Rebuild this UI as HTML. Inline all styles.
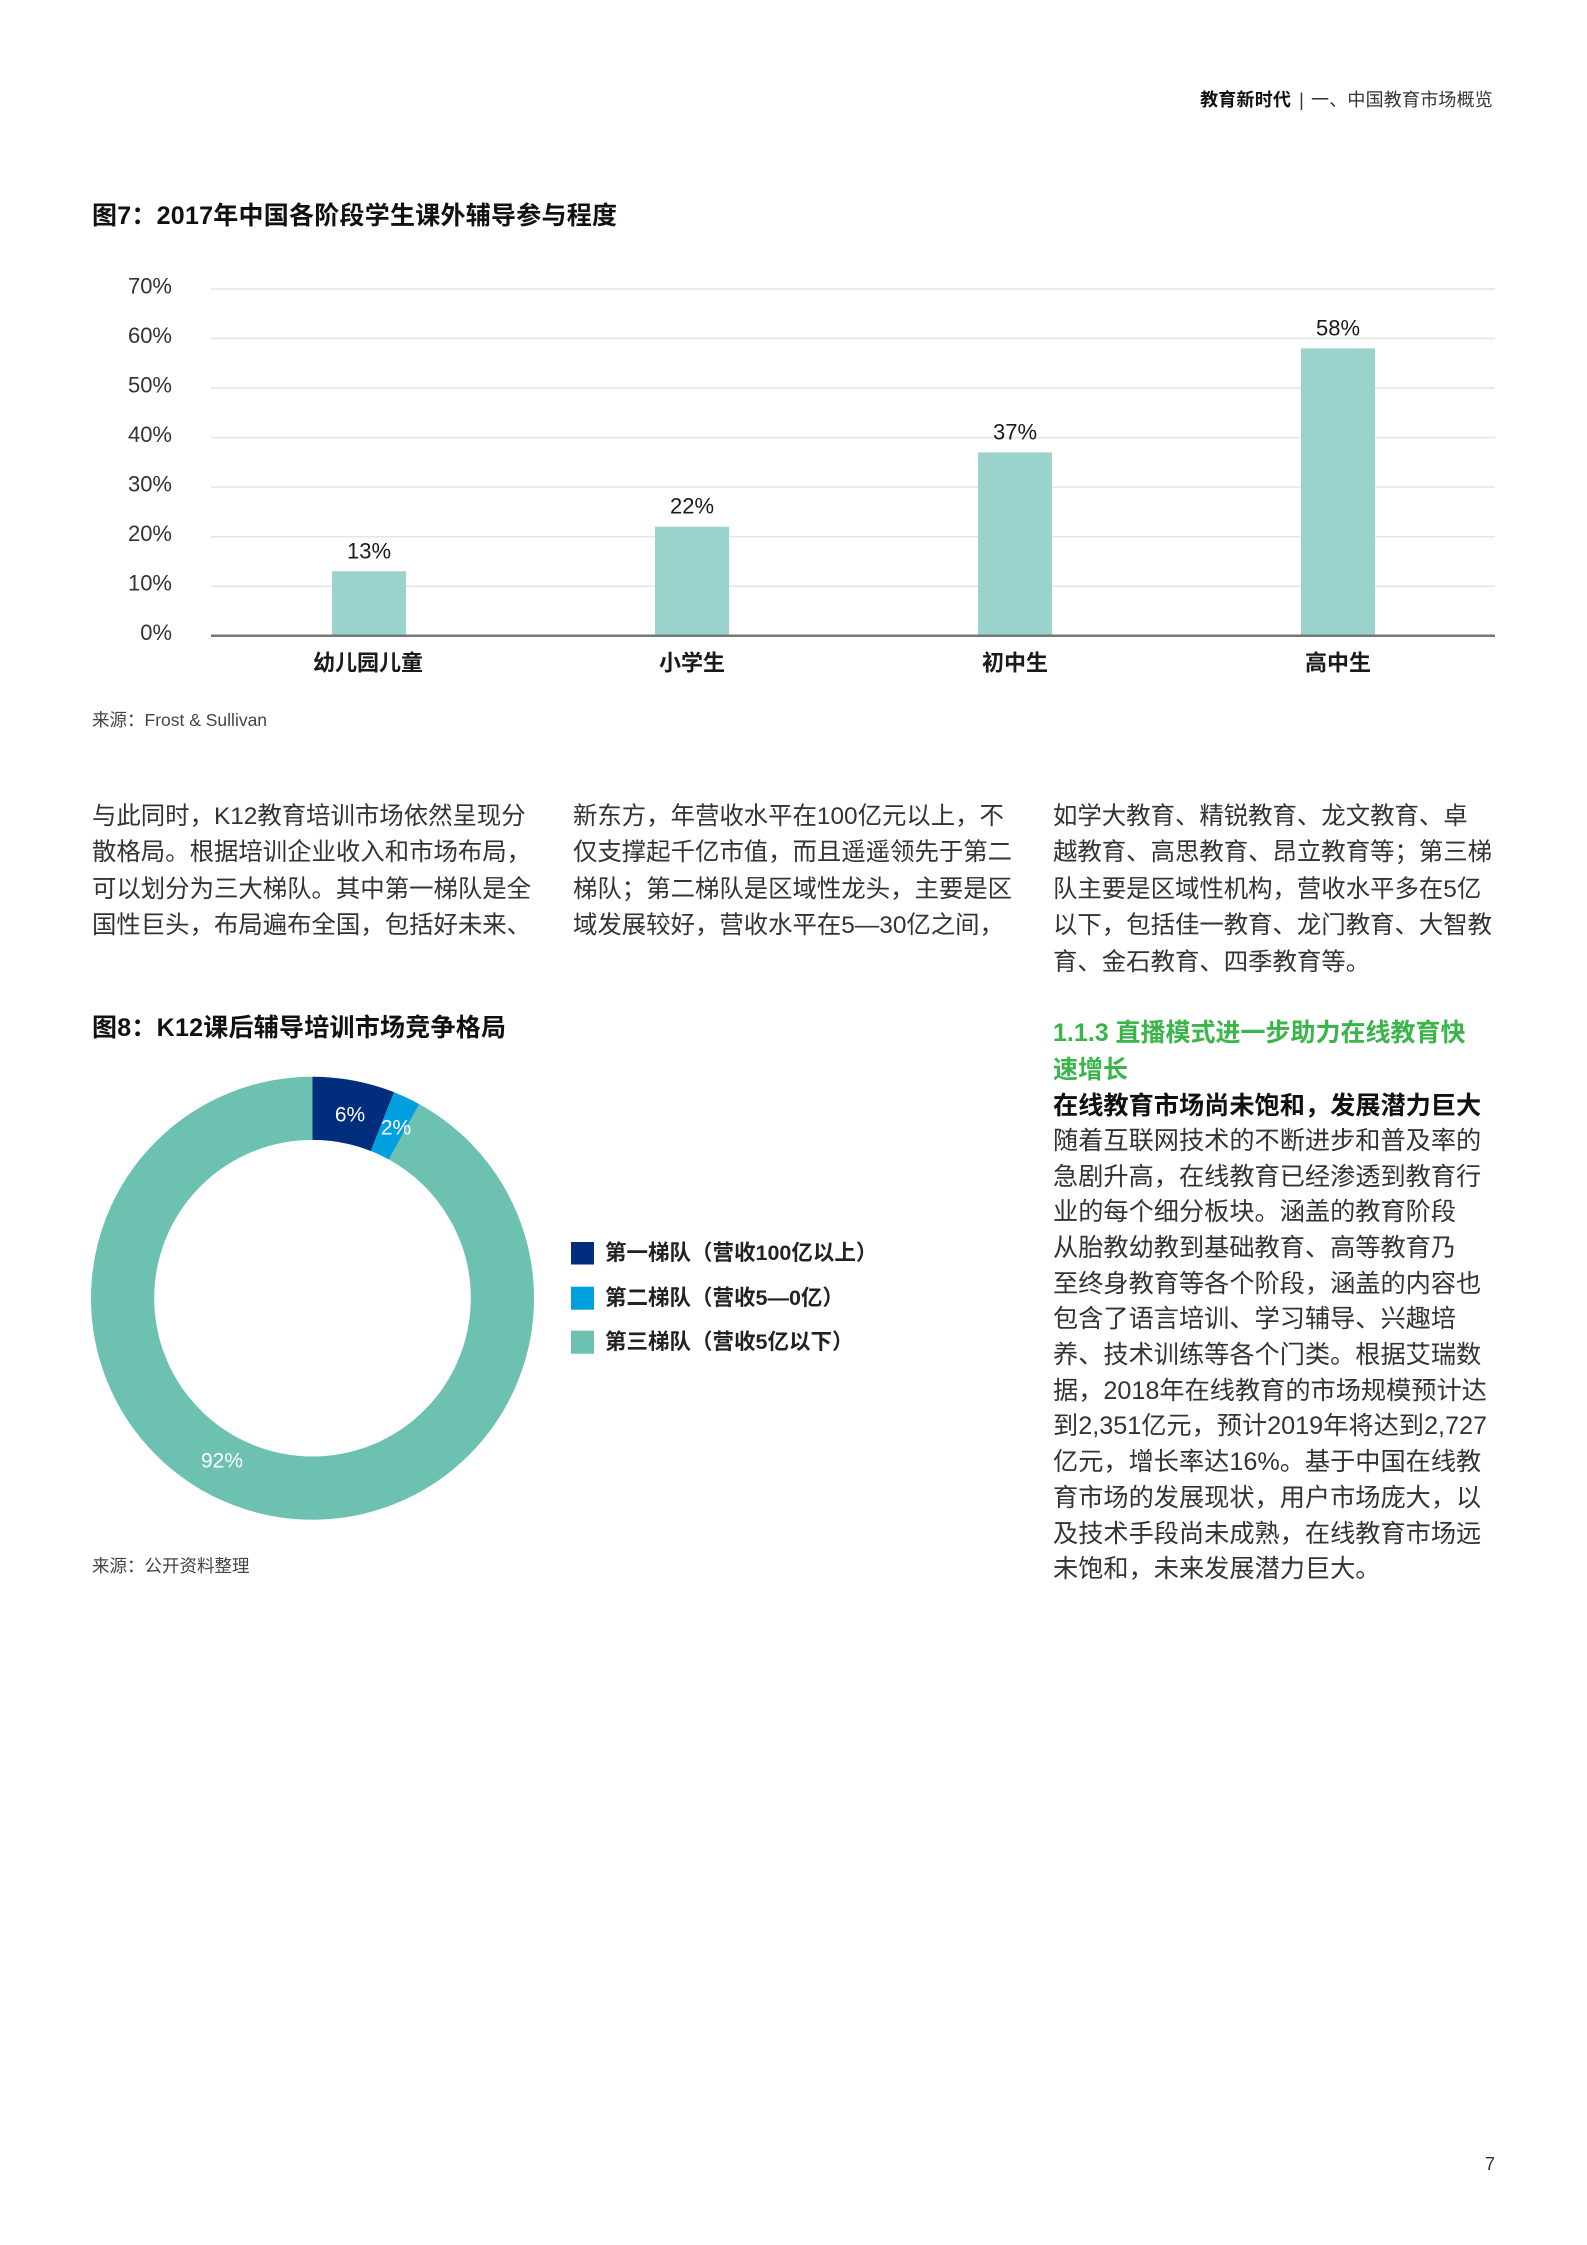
<!DOCTYPE html>
<html>
<head>
<meta charset="utf-8">
<style>
  html,body{margin:0;padding:0;background:#fff;}
  body{width:1587px;height:2245px;position:relative;overflow:hidden;
       font-family:"Liberation Sans","Noto Sans CJK SC",sans-serif;color:#333;}
  .a{position:absolute;white-space:nowrap;}
  .p{position:absolute;white-space:nowrap;font-size:24.4px;line-height:36.5px;height:36.5px;color:#333;}
  .r{position:absolute;white-space:nowrap;font-size:25.2px;line-height:35.7px;height:35.7px;color:#333;left:1053px;}
  svg text{font-family:"Liberation Sans","Noto Sans CJK SC",sans-serif;}
</style>
</head>
<body>

<!-- Header -->
<div class="a" style="right:94px;top:88px;font-size:18px;line-height:24px;letter-spacing:0.2px;">
  <span style="font-weight:bold;color:#111;">教育新时代</span><span style="color:#333;margin:0 7px 0 8px;">|</span><span style="color:#333;">一、中国教育市场概览</span>
</div>

<!-- Figure 7 title -->
<div class="a" style="left:92px;top:201px;font-size:25px;line-height:30px;font-weight:bold;color:#111;letter-spacing:0.25px;">图7：2017年中国各阶段学生课外辅导参与程度</div>

<!-- Bar chart -->
<svg class="a" style="left:0;top:0;" width="1587" height="760" viewBox="0 0 1587 760">
  <g stroke="#e4e4e4" stroke-width="1.5">
    <line x1="211" y1="289" x2="1495" y2="289"/>
    <line x1="211" y1="338.5" x2="1495" y2="338.5"/>
    <line x1="211" y1="388" x2="1495" y2="388"/>
    <line x1="211" y1="437.6" x2="1495" y2="437.6"/>
    <line x1="211" y1="487.1" x2="1495" y2="487.1"/>
    <line x1="211" y1="536.7" x2="1495" y2="536.7"/>
    <line x1="211" y1="586.2" x2="1495" y2="586.2"/>
  </g>
  <g fill="#9ad3cb">
    <rect x="332" y="571.3" width="74" height="64.4"/>
    <rect x="655" y="526.7" width="74" height="109"/>
    <rect x="978" y="452.4" width="74" height="183.3"/>
    <rect x="1301" y="348.4" width="74" height="287.3"/>
  </g>
  <line x1="211" y1="635.7" x2="1495" y2="635.7" stroke="#76777a" stroke-width="2.5"/>
  <g font-size="22" fill="#333" text-anchor="end" dominant-baseline="central">
    <text x="172" y="286">70%</text>
    <text x="172" y="335.5">60%</text>
    <text x="172" y="385">50%</text>
    <text x="172" y="434.6">40%</text>
    <text x="172" y="484.1">30%</text>
    <text x="172" y="533.7">20%</text>
    <text x="172" y="583.2">10%</text>
    <text x="172" y="632.7">0%</text>
  </g>
  <g font-size="22" fill="#1a1a1a" text-anchor="middle" dominant-baseline="central">
    <text x="369" y="551">13%</text>
    <text x="692" y="506">22%</text>
    <text x="1015" y="432">37%</text>
    <text x="1338" y="328">58%</text>
  </g>
  <g font-size="22" fill="#1a1a1a" font-weight="bold" text-anchor="middle" dominant-baseline="central">
    <text x="368" y="663">幼儿园儿童</text>
    <text x="692" y="663">小学生</text>
    <text x="1015" y="663">初中生</text>
    <text x="1338" y="663">高中生</text>
  </g>
</svg>

<!-- Source 1 -->
<div class="a" style="left:92px;top:709px;font-size:17.5px;line-height:22px;color:#444;">来源：Frost &amp; Sullivan</div>

<!-- Paragraph columns -->
<div class="p" style="left:92px;top:798.5px;">与此同时，K12教育培训市场依然呈现分</div>
<div class="p" style="left:92px;top:835px;">散格局。根据培训企业收入和市场布局，</div>
<div class="p" style="left:92px;top:871.5px;">可以划分为三大梯队。其中第一梯队是全</div>
<div class="p" style="left:92px;top:908px;">国性巨头，布局遍布全国，包括好未来、</div>

<div class="p" style="left:573px;top:798.5px;">新东方，年营收水平在100亿元以上，不</div>
<div class="p" style="left:573px;top:835px;">仅支撑起千亿市值，而且遥遥领先于第二</div>
<div class="p" style="left:573px;top:871.5px;">梯队；第二梯队是区域性龙头，主要是区</div>
<div class="p" style="left:573px;top:908px;">域发展较好，营收水平在5—30亿之间，</div>

<div class="p" style="left:1053px;top:798.5px;">如学大教育、精锐教育、龙文教育、卓</div>
<div class="p" style="left:1053px;top:835px;">越教育、高思教育、昂立教育等；第三梯</div>
<div class="p" style="left:1053px;top:871.5px;">队主要是区域性机构，营收水平多在5亿</div>
<div class="p" style="left:1053px;top:908px;">以下，包括佳一教育、龙门教育、大智教</div>
<div class="p" style="left:1053px;top:944.5px;">育、金石教育、四季教育等。</div>

<!-- Figure 8 title -->
<div class="a" style="left:92px;top:1012.7px;font-size:25px;line-height:30px;font-weight:bold;color:#111;letter-spacing:0.25px;">图8：K12课后辅导培训市场竞争格局</div>

<!-- Donut -->
<svg class="a" style="left:0;top:1000px;" width="1000" height="560" viewBox="0 1000 1000 560">
  <g transform="rotate(-90 312.5 1298.2)" fill="none" stroke-width="63.2">
    <circle cx="312.5" cy="1298.2" r="189.9" stroke="#6cc1b1" stroke-dasharray="1097.7 2000" stroke-dashoffset="-95.45"/>
    <circle cx="312.5" cy="1298.2" r="189.9" stroke="#002d7c" stroke-dasharray="71.59 2000" stroke-dashoffset="0"/>
    <circle cx="312.5" cy="1298.2" r="189.9" stroke="#00a0e0" stroke-dasharray="23.86 2000" stroke-dashoffset="-71.59"/>
  </g>
  <g font-size="21" fill="#fff" text-anchor="middle" dominant-baseline="central">
    <text x="350" y="1115">6%</text>
    <text x="396" y="1128">2%</text>
    <text x="222" y="1461">92%</text>
  </g>
  <rect x="571" y="1242" width="23" height="22.5" fill="#002d7c"/>
  <rect x="571" y="1286.7" width="23" height="23" fill="#00a0e0"/>
  <rect x="571" y="1330.7" width="23" height="23" fill="#6cc1b1"/>
  <g font-size="21.5" fill="#222" font-weight="bold" dominant-baseline="central">
    <text x="605" y="1253">第一梯队（营收100亿以上）</text>
    <text x="605" y="1298">第二梯队（营收5—0亿）</text>
    <text x="605" y="1342">第三梯队（营收5亿以下）</text>
  </g>
</svg>

<!-- Source 2 -->
<div class="a" style="left:92px;top:1554.5px;font-size:17.5px;line-height:22px;color:#444;">来源：公开资料整理</div>

<!-- Right column -->
<div class="a" style="left:1053px;top:1014.5px;font-size:25px;line-height:37px;font-weight:bold;color:#3ab54a;">1.1.3 直播模式进一步助力在线教育快</div>
<div class="a" style="left:1053px;top:1051.5px;font-size:25px;line-height:37px;font-weight:bold;color:#3ab54a;">速增长</div>
<div class="a" style="left:1053px;top:1088px;font-size:25.2px;line-height:36px;font-weight:bold;color:#111;">在线教育市场尚未饱和，发展潜力巨大</div>

<div class="r" style="top:1123.8px;">随着互联网技术的不断进步和普及率的</div>
<div class="r" style="top:1159.5px;">急剧升高，在线教育已经渗透到教育行</div>
<div class="r" style="top:1195.2px;">业的每个细分板块。涵盖的教育阶段</div>
<div class="r" style="top:1230.9px;">从胎教幼教到基础教育、高等教育乃</div>
<div class="r" style="top:1266.6px;">至终身教育等各个阶段，涵盖的内容也</div>
<div class="r" style="top:1302.3px;">包含了语言培训、学习辅导、兴趣培</div>
<div class="r" style="top:1338px;">养、技术训练等各个门类。根据艾瑞数</div>
<div class="r" style="top:1373.7px;">据，2018年在线教育的市场规模预计达</div>
<div class="r" style="top:1409.4px;">到2,351亿元，预计2019年将达到2,727</div>
<div class="r" style="top:1445.1px;">亿元，增长率达16%。基于中国在线教</div>
<div class="r" style="top:1480.8px;">育市场的发展现状，用户市场庞大，以</div>
<div class="r" style="top:1516.5px;">及技术手段尚未成熟，在线教育市场远</div>
<div class="r" style="top:1552.2px;">未饱和，未来发展潜力巨大。</div>

<!-- Page number -->
<div class="a" style="right:92px;top:2152px;font-size:18px;line-height:24px;color:#333;">7</div>

</body>
</html>
